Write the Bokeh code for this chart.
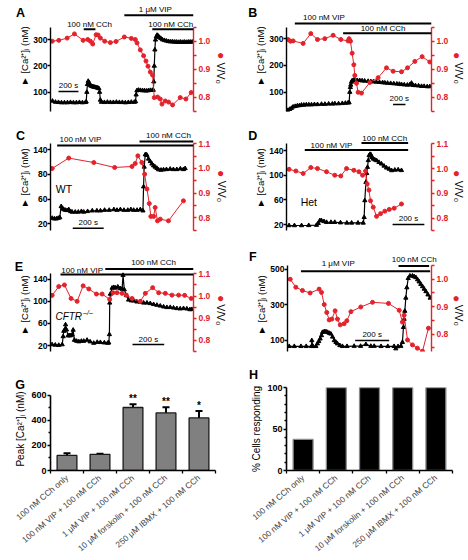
import math
from bokeh.plotting import figure
from bokeh.models import (Range1d, LinearAxis, FixedTicker, Label, Arrow, PrintfTickFormatter,
                          Whisker, TeeHead, ColumnDataSource)
from bokeh.layouts import column, row
from bokeh.embed import file_html
from bokeh.resources import INLINE

FONT = "Liberation Sans"
RED = "#e4222b"

# ---------------- data (time in s; [Ca2+]i in nM; V/V0 ratio) ----------------
# Panel A
A_t_ca = [20, 50, 80, 110, 140, 170, 200, 230, 260, 290, 320, 350, 358, 364, 370, 378, 386, 395, 405, 415,
          425, 435, 445, 455, 465, 475, 485, 492, 500, 510, 540, 570, 600, 630, 660, 690, 720, 750, 780, 810,
          840, 852, 858, 866, 880, 900, 920, 940, 960, 980, 1000, 1020, 1030, 1035, 1040, 1046, 1052, 1060, 1068, 1078,
          1090, 1105, 1120, 1140, 1160, 1180, 1200, 1220, 1240, 1260, 1280, 1300, 1320, 1340, 1360, 1380, 1400, 1420]
A_ca = [66, 62, 61, 60, 60, 60, 61, 60, 60, 61, 60, 61, 63, 100, 130, 142, 136, 127, 124, 122,
        121, 120, 119, 118, 117, 116, 114, 100, 70, 62, 61, 62, 61, 61, 62, 61, 61, 60, 61, 62,
        62, 64, 90, 106, 108, 107, 106, 106, 105, 106, 107, 107, 108, 140, 200, 262, 300, 312, 318, 315,
        310, 306, 301, 298, 296, 294, 293, 293, 292, 292, 291, 292, 291, 292, 291, 292, 292, 292]
A_t_vv = [17, 83, 167, 240, 327, 373, 400, 423, 457, 477, 500, 543, 600, 657, 740, 810, 850, 867, 900, 933,
          957, 977, 1000, 1023, 1040, 1073, 1100, 1117, 1150, 1183, 1223, 1300, 1357, 1410]
A_vv = [1.0, 1.003, 1.011, 1.026, 1.003, 1.006, 1.0, 0.99, 1.023, 1.022, 1.011, 1.0, 0.995, 0.999, 1.015, 1.01,
        1.006, 0.994, 0.969, 0.948, 0.929, 0.911, 0.89, 0.879, 0.799, 0.801, 0.794, 0.776, 0.787, 0.783, 0.773,
        0.799, 0.794, 0.817]
A_treat = ["100 nM CCh", "1 μM VIP", "100 nM CCh"]
A_treat_start = [333, 740, 1020]
A_treat_end = [450, 1433, 1433]

# Panel B
B_t_ca = [16, 50, 80, 107, 140, 175, 210, 242, 280, 320, 360, 403, 450, 500, 565, 620, 680, 740, 780, 840,
          900, 950, 993, 1010, 1021, 1030, 1037, 1048, 1059, 1080, 1102, 1140, 1180, 1220, 1260, 1317, 1360, 1400,
          1450, 1500, 1550, 1586, 1630, 1680, 1730, 1780, 1820, 1855, 1900, 1950, 1990, 2016, 2040, 2080, 2130,
          2178, 2220, 2270, 2312]
B_ca = [32, 36, 40, 45, 47, 49, 50, 52, 52, 53, 53, 53, 54, 54, 55, 55, 56, 56, 57, 57,
        58, 59, 60, 61, 100, 118, 127, 138, 143, 145, 145, 144, 144, 143, 142, 141, 140, 139,
        138, 137, 136, 135, 134, 133, 132, 131, 130, 129, 128, 127, 128, 134, 126, 125, 124,
        122, 122, 121, 121]
B_t_vv = [26, 64, 107, 268, 392, 500, 618, 752, 876, 994, 1010, 1032, 1059, 1086, 1102, 1129, 1155, 1210,
          1344, 1478, 1613, 1720, 1855, 1952, 2070, 2188, 2312]
B_vv = [1.006, 1.0, 1.001, 0.992, 1.027, 1.006, 1.009, 1.021, 1.006, 1.001, 1.009, 1.0, 0.957, 0.916, 0.878,
        0.85, 0.818, 0.815, 0.853, 0.87, 0.905, 0.893, 0.891, 0.905, 0.928, 0.945, 0.926]
B_treat = ["100 nM VIP", "100 nM CCh"]
B_treat_start = [134, 913]
B_treat_end = [2339, 2339]

# Panel C (WT)
C_t_ca = [11, 25, 38, 50, 60, 69, 78, 86, 97, 108, 118, 130, 140, 160, 180, 200, 215, 240, 270, 300,
          323, 350, 380, 410, 430, 452, 475, 500, 520, 538, 560, 581, 598, 602, 606, 613, 618, 624, 634, 645,
          656, 667, 677, 688, 699, 715, 731, 750, 774, 795, 817, 840, 860, 871]
C_ca = [29, 28, 28, 29, 30, 48, 45, 43, 42, 41.6, 43, 40, 39, 39, 39, 40, 39, 40, 41, 41,
        41, 42, 42, 43, 42, 43, 42, 42, 43, 42, 42, 43, 41, 80, 112, 132, 132, 131, 125, 121,
        117, 114, 112, 110, 107.6, 107, 107.6, 108, 108.6, 108, 108, 109, 108, 109.6]
C_t_vv = [11, 118, 280, 415, 527, 548, 565, 591, 609, 624, 639, 649, 667, 677, 692, 710, 763, 860]
C_vv = [1.0, 1.042, 1.024, 1.004, 1.008, 1.02, 1.051, 1.024, 0.977, 0.917, 0.858, 0.806, 0.806, 0.842,
        0.788, 0.795, 0.788, 0.869]
C_treat = ["100 nM VIP", "100 nM CCh"]
C_treat_start = [43, 576]
C_treat_end = [925, 925]

# Panel D (Het)
D_t_ca = [16, 50, 95, 140, 189, 200, 210, 220, 236, 252, 280, 304, 340, 380, 410, 450, 483, 489, 493, 500,
          505, 510, 515, 520, 526, 531, 538, 546, 556, 567, 582, 598, 614, 630, 646, 662, 682, 703, 724]
D_ca = [18.4, 18.4, 18.4, 18.6, 19, 22, 26.5, 26.5, 25, 23.7, 23.7, 23.7, 23, 22.6, 22.6, 22.6, 22.6, 31.7, 58.9, 88.6,
        103, 113, 124, 131.9, 134, 133.5, 129, 126.5, 125, 123.8, 121, 118.4, 115, 111.9, 110, 107.6, 108.5, 108.9, 107.8]
D_t_vv = [16, 59, 105, 153, 195, 252, 304, 342, 378, 424, 456, 479, 498, 508, 519, 529, 546, 567, 592, 619,
          647, 678, 724]
D_vv = [0.997, 0.99, 0.98, 1.004, 1.0, 0.987, 0.973, 0.97, 1.0, 0.993, 0.987, 0.973, 0.99, 0.938, 0.913,
        0.87, 0.844, 0.807, 0.818, 0.828, 0.835, 0.84, 0.857]
D_treat = ["100 nM VIP", "100 nM CCh"]
D_treat_start = [115, 472]
D_treat_end = [766, 766]

# Panel E (CFTR-/-)
E_t_ca = [10, 30, 52, 74, 80, 84, 90, 95, 101, 111, 118, 126, 137, 143, 151, 165, 179, 195, 210, 231,
          250, 273, 295, 315, 340, 361, 368, 372, 374, 378, 389, 400, 410, 425, 440, 452, 458, 466, 479, 493,
          510, 525, 545, 567, 588, 609, 630, 651, 672, 693, 714, 735, 756, 777, 798, 819, 840, 861, 880, 893]
E_ca = [21.7, 21, 20.6, 21.7, 36.3, 46, 48.5, 57.7, 48.5, 37.9, 38, 37.9, 39.5, 48, 29.8, 28, 27, 28, 28, 29.8,
        27, 24.4, 26, 25.7, 25, 24.4, 25, 40, 97, 113, 123.9, 125, 124, 126, 123, 122, 147, 121, 110.5, 102.4,
        101, 100.8, 99, 98.6, 97, 97, 96, 94.3, 93, 91.6, 90, 88.9, 89, 88, 87, 86.4, 87, 86.4, 85, 85.3]
E_t_vv = [10.5, 52, 88, 130, 168, 206, 242, 290, 326, 374, 395, 420, 452, 479, 515, 567, 599, 645, 683, 725,
          767, 809, 847, 889]
E_vv = [1.003, 1.043, 1.05, 0.989, 0.976, 1.046, 1.032, 1.009, 1.009, 0.985, 1.015, 1.015, 1.012, 1.004,
        0.989, 0.976, 1.012, 1.038, 1.015, 1.012, 1.004, 1.004, 1.003, 0.989]
E_treat = ["100 nM VIP", "100 nM CCh"]
E_treat_start = [63, 346]
E_treat_end = [903, 903]

# Panel F
F_t_ca = [10, 40, 79, 110, 141, 143, 150, 167, 176, 184, 192, 200, 206, 216, 226, 236, 246, 255, 265, 275,
          285, 294, 308, 323, 350, 392, 430, 461, 490, 510, 550, 590, 627, 637, 650, 667, 676, 682, 686, 690,
          696, 702, 710, 720, 735, 745, 755, 765, 774, 784, 794, 804, 814, 826, 839]
F_ca = [67, 67, 67, 67, 67, 100, 67, 67, 82, 95, 109.5, 128, 146, 150, 150, 146, 141, 137, 120, 100,
        90, 82, 72, 67, 67, 68, 68, 78, 68, 68, 67, 67, 67, 54, 66, 68, 90, 174, 220, 265,
        339, 397, 449, 463, 463, 459, 454, 442, 430, 416, 403, 389, 375, 357, 339]
F_t_vv = [16, 49, 88, 133, 186, 200, 216, 231, 245, 261, 280, 294, 310, 333, 349, 373, 431, 500, 594, 657,
          676, 686, 706, 735, 764, 794, 829]
F_vv = [1.0, 0.971, 0.959, 0.95, 0.964, 0.952, 0.908, 0.879, 0.852, 0.855, 0.885, 0.855, 0.834, 0.838,
        0.849, 0.882, 0.899, 0.916, 0.912, 0.887, 0.844, 0.869, 0.779, 0.761, 0.749, 0.738, 0.822]
F_treat = ["1 μM VIP", "100 nM CCh"]
F_treat_start = [79, 653]
F_treat_end = [839, 833]

SCALE_S = 200  # scale bar length, s

# Panels G and H
CATS = ["100 nM CCh only", "100 nM VIP + 100 nM CCh", "1 μM VIP + 100 nM CCh",
        "10 μM forskolin + 100 nM CCh", "250 μM IBMX + 100 nM CCh"]
G_peak = [120, 129, 502, 459, 419]
G_err = [18, 5, 26, 45, 55]
G_stars = ["", "", "**", "**", "*"]
H_pct = [37.5, 100, 100, 100, 100]

for a, b in [(A_t_ca, A_ca), (A_t_vv, A_vv), (B_t_ca, B_ca), (B_t_vv, B_vv), (C_t_ca, C_ca), (C_t_vv, C_vv),
             (D_t_ca, D_ca), (D_t_vv, D_vv), (E_t_ca, E_ca), (E_t_vv, E_vv), (F_t_ca, F_ca), (F_t_vv, F_vv)]:
    assert len(a) == len(b), (len(a), len(b))


# ---------------- helpers ----------------
def style_axis(ax, color, size="8.5px", standoff=2):
    ax.axis_line_color = color
    ax.axis_line_width = 1.4
    ax.major_tick_line_color = color
    ax.minor_tick_line_color = color
    ax.major_tick_line_width = 1.3
    ax.minor_tick_line_width = 1.3
    ax.major_tick_in = 0
    ax.major_tick_out = 3
    ax.minor_tick_in = 0
    ax.minor_tick_out = 3
    ax.major_label_text_color = color
    ax.major_label_text_font = FONT
    ax.major_label_text_font_style = "bold"
    ax.major_label_text_font_size = size
    ax.major_label_standoff = standoff
    ax.axis_label_text_font = FONT
    ax.axis_label_text_font_style = "normal"
    ax.axis_label_text_font_size = "9.5px"
    ax.axis_label_text_color = "black"
    ax.axis_label_standoff = 0


def label(x, y, text, size="8px", color="black", style="normal", angle=0.0, align="center",
          baseline="middle"):
    return Label(x=x, y=y, text=text, text_font=FONT, text_font_size=size,
                 text_color=color, text_font_style=style, angle=angle,
                 text_align=align, text_baseline=baseline)


def add_bar(p, t0, t1, y, width=2.0):
    p.add_layout(Arrow(end=None, x_start=t0, x_end=t1, y_start=y, y_end=y,
                       line_color="black", line_width=width))


def trace_panel(fig_x, fig_y, fig_w, fig_h, fl, fr, ft, fb, xmax, yl, yr, lticks, rticks, rminor,
                t_ca, ca, t_vv, vv, lover=None, top_border=0):
    # ft/fb: top/bottom of the axis lines; the frame runs up to near the figure top
    frame_top = fig_y + top_border
    k = (fb - frame_top) / (fb - ft)
    yl_ext = (yl[0], yl[0] + k * (yl[1] - yl[0]))
    yr_ext = (yr[0], yr[0] + k * (yr[1] - yr[0]))
    p = figure(width=fig_w, height=fig_h, x_range=Range1d(0, xmax), y_range=Range1d(*yl_ext),
               x_axis_location=None, y_axis_location="left", output_backend="svg",
               toolbar_location=None, title=None,
               min_border_left=round(fl - fig_x), min_border_right=round(fig_x + fig_w - fr),
               min_border_top=top_border, min_border_bottom=round(fig_y + fig_h - fb))
    p.grid.visible = False
    p.outline_line_color = None
    la = p.yaxis[0]
    la.ticker = FixedTicker(ticks=lticks, minor_ticks=[])
    la.bounds = yl
    style_axis(la, "black", standoff=0)
    la.axis_label = "► [Ca²⁺]ᵢ (nM)"
    if lover:
        la.major_label_overrides = lover
    p.extra_y_ranges = {"r": Range1d(*yr_ext)}
    ra = LinearAxis(y_range_name="r", ticker=FixedTicker(ticks=rticks, minor_ticks=rminor),
                    formatter=PrintfTickFormatter(format="%.1f"), bounds=yr)
    style_axis(ra, RED)
    p.add_layout(ra, "right")
    p.line(t_ca, ca, line_color="black", line_width=1.2)
    p.scatter(t_ca, ca, marker="triangle", size=4.2, color="black")
    p.line(t_vv, vv, y_range_name="r", line_color=RED, line_width=1)
    p.scatter(t_vv, vv, y_range_name="r", marker="circle", size=4, color=RED)

    def X(px):
        return (px - fl) / (fr - fl) * xmax

    def Y(py):
        return yl[0] + (fb - py) / (fb - ft) * (yl[1] - yl[0])
    return p, X, Y


def add_letter(p, X, Y, letter, xy):
    # right edge of the letter at xy[0] + 4.5 (letter centre at xy[0])
    p.add_layout(label(X(xy[0] + 4.5), Y(xy[1]), letter, size="12.5px", style="bold", align="right"), "left")


def decorate(p, X, Y, letter, letter_xy, names, starts, ends, bar_py, lab_xy,
             scale_t0, scale_py, vlab_xy, dot_xy, lab_sides=None):
    sides = lab_sides or ["center"] * len(names)
    for name, t0, t1, by, (lx, ly), side in zip(names, starts, ends, bar_py, lab_xy, sides):
        add_bar(p, t0, t1, Y(by))
        p.add_layout(label(X(lx), Y(ly), name, size="8px"), side)
    add_bar(p, scale_t0, scale_t0 + SCALE_S, Y(scale_py), width=1.5)
    p.add_layout(label(scale_t0 + SCALE_S / 2, Y(scale_py - 6), "200 s", size="8px"))
    # texts that sit outside the frame go into the side panels
    add_letter(p, X, Y, letter, letter_xy)
    p.add_layout(label(X(vlab_xy[0]), Y(vlab_xy[1]), "V/V₀", size="10.5px", angle=-math.pi / 2), "right")
    p.add_layout(label(X(dot_xy[0]), Y(dot_xy[1]), "●", size="12px", color=RED), "below")


# ---------------- layout rows (page pixels) ----------------
R1, R2, R3, R4 = 0, 125, 247, 368
H1, H2, H3, H4 = 125, 122, 121, 192
LX, RX, W = 0, 234, 234

RT3 = [0.8, 0.9, 1.0]
RT4 = [0.8, 0.9, 1.0, 1.1]
RMIN = [0.75, 0.85, 0.95, 1.05]

pA, X, Y = trace_panel(LX, R1, W, H1, 50, 193.3, 27, 113, 1433, (26, 349), (0.7495, 1.0505),
                       [100, 200, 300], RT3, RMIN, A_t_ca, A_ca, A_t_vv, A_vv)
decorate(pA, X, Y, "A", (20, 13), A_treat, A_treat_start, A_treat_end, [29.3, 15, 29.3],
         [(89.2, 24), (155, 9.5), (170.5, 24)], 80, 92.7, (221, 74), (220.5, 55))

pB, X, Y = trace_panel(RX, R1, W, H1, 285.7, 430.7, 27, 113, 2339, (27.5, 344), (0.7495, 1.0505),
                       [100, 200, 300], RT3, RMIN, B_t_ca, B_ca, B_t_vv, B_vv)
decorate(pB, X, Y, "B", (252, 13), B_treat, B_treat_start, B_treat_end, [23.3, 33.3],
         [(323.2, 17.5), (382.3, 28.3)], 1719, 106, (458, 74), (455.5, 55))

pC, X, Y = trace_panel(LX, R2, W, H2, 50, 193.3, 143, 230, 925, (9, 150), (0.749, 1.101),
                       [20, 60, 100, 140], RT4, RMIN, C_t_ca, C_ca, C_t_vv, C_vv, lover={100: "80"})
decorate(pC, X, Y, "C", (20, 135), C_treat, C_treat_start, C_treat_end, [145, 141],
         [(80, 138.5), (168.3, 135)], 144, 227.7, (222, 191), (220.5, 172))
pC.add_layout(label(X(63.5), Y(188), "WT", size="10.5px"))

pD, X, Y = trace_panel(RX, R2, W, H2, 285.7, 430.7, 143, 230, 913, (10.3, 151.4), (0.75, 1.101),
                       [20, 60, 100, 140], RT4, RMIN, D_t_ca, D_ca, D_t_vv, D_vv)
decorate(pD, X, Y, "D", (252, 135), D_treat, D_treat_start, D_treat_end, [149.5, 142.5],
         [(330.7, 144.5), (384, 137.5)], 668, 224, (458, 191), (455.5, 172))
pD.add_layout(label(X(308), Y(201.7), "Het", size="10.5px"))

pE, X, Y = trace_panel(LX, R3, W, H3, 50, 193.3, 264, 351, 903, (9.2, 149.7), (0.749, 1.101),
                       [20, 60, 100, 140], RT4, RMIN, E_t_ca, E_ca, E_t_vv, E_vv)
decorate(pE, X, Y, "E", (18, 256), E_treat, E_treat_start, E_treat_end, [265, 258.7],
         [(81.7, 260), (153.3, 252)], 518, 343.3, (221, 310), (220.5, 291.7))
pE.add_layout(label(X(68.3), Y(311.7), "CFTR", size="10px", style="italic"))
pE.add_layout(label(X(87.5), Y(307.5), "–/–", size="7px", style="italic"))

pF, X, Y = trace_panel(RX, R3, W, H3, 287.3, 431.3, 265, 353, 847, (38, 522), (0.737, 1.0505),
                       [100, 300, 500], RT3, RMIN, F_t_ca, F_ca, F_t_vv, F_vv, top_border=11)
decorate(pF, X, Y, "F", (252, 256), F_treat, F_treat_start, F_treat_end, [271, 265.7],
         [(338, 263.3), (414, 259.5)], 398, 341.7, (458.5, 316), (456, 298),
         lab_sides=["center", "above"])


# ---------------- bar panels ----------------
def bar_panel(fig_x, fig_y, fig_w, fig_h, fl, fr, ft, fb, ft_frame, ymax, ticks, minor, vals, fill, line,
              ylabel):
    k = (fb - ft_frame) / (fb - ft)
    p = figure(width=fig_w, height=fig_h, x_range=Range1d(0.5, 5.5), y_range=Range1d(0, ymax * k),
               output_backend="svg", toolbar_location=None, title=None,
               min_border_left=round(fl - fig_x), min_border_right=round(fig_x + fig_w - fr),
               min_border_top=round(ft_frame - fig_y), min_border_bottom=round(fig_y + fig_h - fb))
    p.grid.visible = False
    p.outline_line_color = None
    xs = list(range(1, len(vals) + 1))
    p.vbar(x=xs, top=vals, width=0.6, fill_color=fill, line_color=line, line_width=1.3)
    ya = p.yaxis[0]
    ya.ticker = FixedTicker(ticks=ticks, minor_ticks=minor)
    ya.bounds = (0, ymax)
    style_axis(ya, "black", size="9px", standoff=1)
    ya.minor_tick_out = 2
    ya.axis_line_width = 1.6
    ya.axis_label = ylabel
    ya.axis_label_text_font_size = "10px"
    ya.axis_label_standoff = 2
    xa = p.xaxis[0]
    xa.ticker = FixedTicker(ticks=xs, minor_ticks=[x - 0.5 for x in xs] + [xs[-1] + 0.5])
    xa.major_label_overrides = {x: c for x, c in zip(xs, CATS)}
    xa.major_label_orientation = math.radians(40)
    xa.axis_line_width = 1.6
    xa.major_tick_out = 0
    xa.major_tick_in = 0
    xa.minor_tick_out = 3
    xa.minor_tick_in = 0
    xa.minor_tick_line_width = 1.3
    xa.major_label_text_font = FONT
    xa.major_label_text_font_size = "8.4px"
    xa.major_label_standoff = 3

    def X(px):
        return 0.5 + (px - fl) / (fr - fl) * 5

    def Y(py):
        return (fb - py) / (fb - ft) * ymax
    return p, X, Y, xs


pG, X, Y, xs = bar_panel(LX, R4, W, H4, 50, 215, 385.7, 471, 377, 600, [0, 200, 400, 600], [100, 300, 500],
                         G_peak, "#808080", "#1a1a1a", "Peak [Ca²⁺]ᵢ (nM)")
src = ColumnDataSource(dict(x=xs, upper=[m + e for m, e in zip(G_peak, G_err)],
                            lower=[m - e for m, e in zip(G_peak, G_err)]))
pG.add_layout(Whisker(source=src, base="x", upper="upper", lower="lower", line_width=2, line_color="black",
                      upper_head=TeeHead(size=7, line_width=2, line_color="black"),
                      lower_head=TeeHead(size=7, line_width=2, line_color="black")))
for x, m, e, s in zip(xs, G_peak, G_err, G_stars):
    if s:
        pG.add_layout(label(x, m + e, s, size="10px", style="bold", baseline="bottom"))
add_letter(pG, X, Y, "G", (20, 374.3))

pH, X, Y, xs = bar_panel(RX, R4, W, H4, 285.5, 451.5, 387, 471, 387, 100, [0, 50, 100],
                         [10, 20, 30, 40, 60, 70, 80, 90], H_pct, "black", "#8a8a8a", "% Cells responding")
add_letter(pH, X, Y, "H", (252.5, 374.3))

layout = column(row(pA, pB), row(pC, pD), row(pE, pF), row(pG, pH))
open("out.html", "w").write(file_html(layout, INLINE))
